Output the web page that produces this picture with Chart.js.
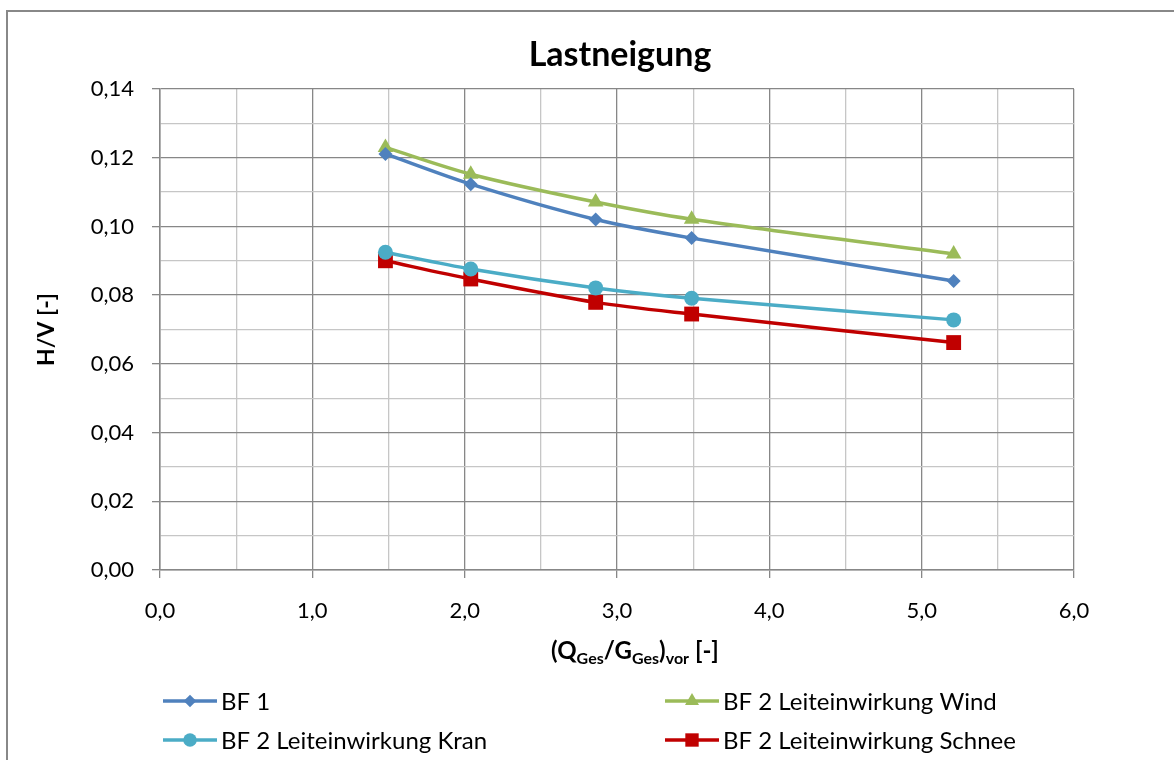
<!DOCTYPE html>
<html>
<head>
    <title>Lastneigung</title>
    <script src="https://cdn.jsdelivr.net/npm/chart.js"></script>
<style>
  body{
    margin: 0;
    background: white;
  }
  #wrap{
    position: relative;
    width: 1174px;
    height: 760px;
  }
</style>
</head>
<body>
  <div id="wrap">
    <canvas id="chart" width="1174" height="760"></canvas>
  </div>

    <script>
        // x positions (Q_Ges/G_Ges)_vor, same for every load case
        const xValues = [1.48, 2.04, 2.86, 3.49, 5.21];

        const bf1 = [0.1211, 0.1123, 0.1020, 0.0966, 0.0841];
        const bf2Wind = [0.1230, 0.1152, 0.1071, 0.1021, 0.0920];
        const bf2Kran = [0.0925, 0.0876, 0.0821, 0.0791, 0.0728];
        const bf2Schnee = [0.0900, 0.0847, 0.0779, 0.0745, 0.0662];

        const seriesLabels = ['BF 1', 'BF 2 Leiteinwirkung Wind', 'BF 2 Leiteinwirkung Kran', 'BF 2 Leiteinwirkung Schnee'];
        const xTickLabels = ['0,0', '1,0', '2,0', '3,0', '4,0', '5,0', '6,0'];
        const yTickLabels = ['0,00', '0,02', '0,04', '0,06', '0,08', '0,10', '0,12', '0,14'];

        const FONT = 'Lato, "Open Sans", sans-serif';
        const MAJOR = '#878787';
        const MINOR = '#c6c6c6';

        function pts(ys) {
            return xValues.map((x, i) => ({ x: x, y: ys[i] }));
        }

        function series(label, data, color, style, radius) {
            return {
                label: label,
                data: pts(data),
                borderColor: color,
                backgroundColor: color,
                borderWidth: 3.5,
                pointStyle: style,
                pointRadius: radius,
                pointHoverRadius: radius,
                pointBorderWidth: 0,
                showLine: true,
                tension: 0.3,
                fill: false
            };
        }

        const datasets = [
            series(seriesLabels[0], bf1, '#4f81bd', 'rectRot', 7),
            series(seriesLabels[1], bf2Wind, '#9bbb59', 'triangle', 9),
            series(seriesLabels[2], bf2Kran, '#4bacc6', 'circle', 7.5),
            series(seriesLabels[3], bf2Schnee, '#c00000', 'rect', 10.5)
        ];

        // title, axis titles (with subscripts), legend and frame
        const decorations = {
            id: 'decorations',
            afterDraw(chart) {
                const c = chart.ctx;
                const area = chart.chartArea;
                c.save();

                // outer frame
                c.strokeStyle = '#888888';
                c.lineWidth = 2;
                c.strokeRect(7, 11, 1300, 900);

                c.fillStyle = '#000';
                c.textBaseline = 'alphabetic';

                // chart title
                c.font = 'bold 34px ' + FONT;
                c.textAlign = 'center';
                c.fillText('Lastneigung', 620, 66);

                // y axis title
                c.save();
                c.translate(54, (area.top + area.bottom) / 2);
                c.rotate(-Math.PI / 2);
                c.font = 'bold 23px ' + FONT;
                c.fillText('H/V [-]', 0, 0);
                c.restore();

                // x axis title: (Q_Ges/G_Ges)_vor [-]
                const big = 'bold 24px ' + FONT;
                const small = 'bold 16px ' + FONT;
                const parts = [
                    ['(Q', big, 0], ['Ges', small, 5], ['/G', big, 0], ['Ges', small, 5],
                    [')', big, 0], ['vor', small, 5], [' [-]', big, 0]
                ];
                let total = 0;
                parts.forEach(p => { c.font = p[1]; total += c.measureText(p[0]).width; });
                let px = 635 - total / 2;
                c.textAlign = 'left';
                parts.forEach(p => {
                    c.font = p[1];
                    c.fillText(p[0], px, 659 + p[2]);
                    px += c.measureText(p[0]).width;
                });

                // legend, two columns
                const cols = [163, 665];
                const rows = [701, 740];
                chart.data.datasets.forEach((ds, i) => {
                    const lx = cols[i % 2];
                    const ly = rows[Math.floor(i / 2)];
                    c.strokeStyle = ds.borderColor;
                    c.lineWidth = ds.borderWidth;
                    c.beginPath();
                    c.moveTo(lx, ly);
                    c.lineTo(lx + 54, ly);
                    c.stroke();
                    c.fillStyle = ds.backgroundColor;
                    Chart.helpers.drawPoint(c, {
                        pointStyle: ds.pointStyle,
                        radius: ds.pointRadius * 0.9,
                        borderWidth: 0,
                        rotation: 0
                    }, lx + 27, ly);
                    c.fillStyle = '#000';
                    c.font = '24px ' + FONT;
                    c.textBaseline = 'middle';
                    c.fillText(ds.label, lx + 58, ly + 1);
                });

                c.restore();
            }
        };

        function isMajorX(v) {
            return Math.abs(v - Math.round(v)) < 1e-6;
        }
        function isMajorY(v) {
            return Math.round(v * 100) % 2 === 0;
        }

        new Chart(document.getElementById('chart'), {
            type: 'scatter',
            data: { datasets: datasets },
            options: {
                responsive: false,
                animation: false,
                layout: {
                    padding: { left: 0, right: 100, top: 89, bottom: 100 }
                },
                plugins: {
                    legend: { display: false },
                    title: { display: false },
                    tooltip: { enabled: false }
                },
                scales: {
                    x: {
                        type: 'linear',
                        min: 0,
                        max: 6,
                        afterFit(scale) { scale.height = 90; },
                        ticks: {
                            stepSize: 0.5,
                            autoSkip: false,
                            maxRotation: 0,
                            padding: 20,
                            color: '#000',
                            font: { family: FONT, size: 22 },
                            callback: v => isMajorX(v) ? xTickLabels[Math.round(v)] : ''
                        },
                        grid: {
                            color: ctx => isMajorX(ctx.tick.value) ? MAJOR : MINOR,
                            tickColor: ctx => isMajorX(ctx.tick.value) ? MAJOR : 'rgba(0,0,0,0)',
                            tickLength: 8,
                            lineWidth: 1.3
                        },
                        border: { color: MAJOR, width: 1.5 }
                    },
                    y: {
                        type: 'linear',
                        min: 0,
                        max: 0.14,
                        afterFit(scale) { scale.width = 160; },
                        ticks: {
                            stepSize: 0.01,
                            autoSkip: false,
                            padding: 18,
                            color: '#000',
                            font: { family: FONT, size: 22 },
                            callback: v => isMajorY(v) ? yTickLabels[Math.round(v * 50)] : ''
                        },
                        grid: {
                            color: ctx => isMajorY(ctx.tick.value) ? MAJOR : MINOR,
                            tickColor: ctx => isMajorY(ctx.tick.value) ? MAJOR : 'rgba(0,0,0,0)',
                            tickLength: 8,
                            lineWidth: 1.3
                        },
                        border: { color: MAJOR, width: 1.5 }
                    }
                }
            },
            plugins: [decorations]
        });
    </script>
</body>
</html>
